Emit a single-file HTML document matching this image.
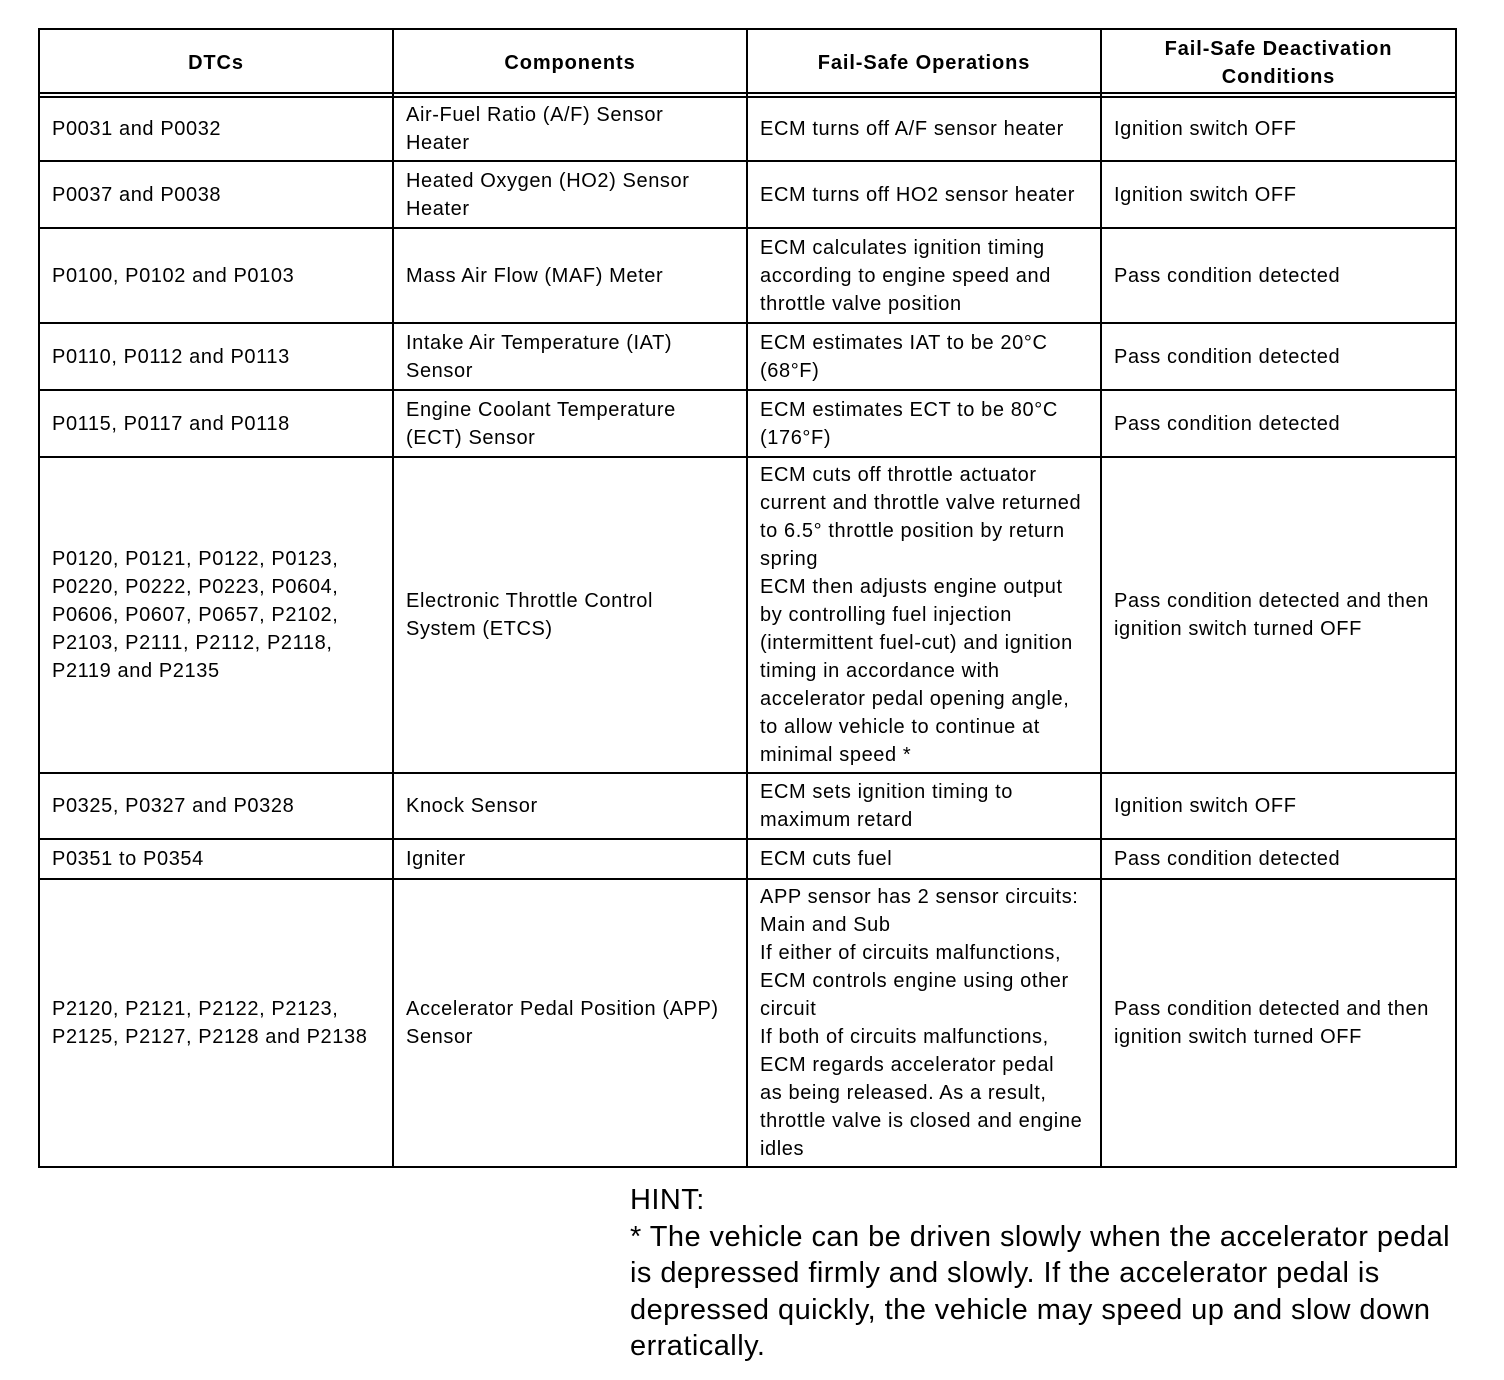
<!DOCTYPE html>
<html><head><meta charset="utf-8"><style>
body{margin:0;width:1504px;height:1380px;background:#fff;position:relative;font-family:"Liberation Sans",Arial,sans-serif;color:#000;overflow:hidden}
.h,.v{position:absolute;background:#000}
.c{position:absolute;display:flex;align-items:center;font-size:20px;letter-spacing:0.6px;line-height:28px;padding-left:12px;box-sizing:border-box;white-space:nowrap}
.hd{justify-content:center;text-align:center;font-weight:bold;font-size:20px;letter-spacing:0.9px;line-height:28px;padding-left:0;padding-top:3px}
.hint{position:absolute;left:630px;top:1182px;font-size:29px;letter-spacing:0.45px;line-height:36.5px;width:860px;white-space:nowrap}
</style></head><body>
<div class="h" style="left:38px;top:28px;width:1419px;height:2px"></div>
<div class="h" style="left:38px;top:92px;width:1419px;height:2px"></div>
<div class="h" style="left:38px;top:96px;width:1419px;height:2px"></div>
<div class="h" style="left:38px;top:160px;width:1419px;height:2px"></div>
<div class="h" style="left:38px;top:227px;width:1419px;height:2px"></div>
<div class="h" style="left:38px;top:322px;width:1419px;height:2px"></div>
<div class="h" style="left:38px;top:389px;width:1419px;height:2px"></div>
<div class="h" style="left:38px;top:456px;width:1419px;height:2px"></div>
<div class="h" style="left:38px;top:772px;width:1419px;height:2px"></div>
<div class="h" style="left:38px;top:838px;width:1419px;height:2px"></div>
<div class="h" style="left:38px;top:878px;width:1419px;height:2px"></div>
<div class="h" style="left:38px;top:1166px;width:1419px;height:2px"></div>
<div class="v" style="left:38px;top:28px;width:2px;height:1140px"></div>
<div class="v" style="left:392px;top:28px;width:2px;height:1140px"></div>
<div class="v" style="left:746px;top:28px;width:2px;height:1140px"></div>
<div class="v" style="left:1100px;top:28px;width:2px;height:1140px"></div>
<div class="v" style="left:1455px;top:28px;width:2px;height:1140px"></div>

<div class="c hd" style="left:40px;top:30px;width:352px;height:62px">DTCs</div>
<div class="c hd" style="left:394px;top:30px;width:352px;height:62px">Components</div>
<div class="c hd" style="left:748px;top:30px;width:352px;height:62px">Fail-Safe Operations</div>
<div class="c hd" style="left:1102px;top:30px;width:353px;height:62px">Fail-Safe Deactivation<br>Conditions</div>

<div class="c" style="left:40px;top:98px;width:352px;height:62px">P0031 and P0032</div>
<div class="c" style="left:394px;top:98px;width:352px;height:62px">Air-Fuel Ratio (A/F) Sensor<br>Heater</div>
<div class="c" style="left:748px;top:98px;width:352px;height:62px">ECM turns off A/F sensor heater</div>
<div class="c" style="left:1102px;top:98px;width:353px;height:62px">Ignition switch OFF</div>

<div class="c" style="left:40px;top:162px;width:352px;height:65px">P0037 and P0038</div>
<div class="c" style="left:394px;top:162px;width:352px;height:65px">Heated Oxygen (HO2) Sensor<br>Heater</div>
<div class="c" style="left:748px;top:162px;width:352px;height:65px">ECM turns off HO2 sensor heater</div>
<div class="c" style="left:1102px;top:162px;width:353px;height:65px">Ignition switch OFF</div>

<div class="c" style="left:40px;top:229px;width:352px;height:93px">P0100, P0102 and P0103</div>
<div class="c" style="left:394px;top:229px;width:352px;height:93px">Mass Air Flow (MAF) Meter</div>
<div class="c" style="left:748px;top:229px;width:352px;height:93px">ECM calculates ignition timing<br>according to engine speed and<br>throttle valve position</div>
<div class="c" style="left:1102px;top:229px;width:353px;height:93px">Pass condition detected</div>

<div class="c" style="left:40px;top:324px;width:352px;height:65px">P0110, P0112 and P0113</div>
<div class="c" style="left:394px;top:324px;width:352px;height:65px">Intake Air Temperature (IAT)<br>Sensor</div>
<div class="c" style="left:748px;top:324px;width:352px;height:65px">ECM estimates IAT to be 20°C<br>(68°F)</div>
<div class="c" style="left:1102px;top:324px;width:353px;height:65px">Pass condition detected</div>

<div class="c" style="left:40px;top:391px;width:352px;height:65px">P0115, P0117 and P0118</div>
<div class="c" style="left:394px;top:391px;width:352px;height:65px">Engine Coolant Temperature<br>(ECT) Sensor</div>
<div class="c" style="left:748px;top:391px;width:352px;height:65px">ECM estimates ECT to be 80°C<br>(176°F)</div>
<div class="c" style="left:1102px;top:391px;width:353px;height:65px">Pass condition detected</div>

<div class="c" style="left:40px;top:458px;width:352px;height:314px">P0120, P0121, P0122, P0123,<br>P0220, P0222, P0223, P0604,<br>P0606, P0607, P0657, P2102,<br>P2103, P2111, P2112, P2118,<br>P2119 and P2135</div>
<div class="c" style="left:394px;top:458px;width:352px;height:314px">Electronic Throttle Control<br>System (ETCS)</div>
<div class="c" style="left:748px;top:458px;width:352px;height:314px">ECM cuts off throttle actuator<br>current and throttle valve returned<br>to 6.5° throttle position by return<br>spring<br>ECM then adjusts engine output<br>by controlling fuel injection<br>(intermittent fuel-cut) and ignition<br>timing in accordance with<br>accelerator pedal opening angle,<br>to allow vehicle to continue at<br>minimal speed *</div>
<div class="c" style="left:1102px;top:458px;width:353px;height:314px">Pass condition detected and then<br>ignition switch turned OFF</div>

<div class="c" style="left:40px;top:774px;width:352px;height:64px">P0325, P0327 and P0328</div>
<div class="c" style="left:394px;top:774px;width:352px;height:64px">Knock Sensor</div>
<div class="c" style="left:748px;top:774px;width:352px;height:64px">ECM sets ignition timing to<br>maximum retard</div>
<div class="c" style="left:1102px;top:774px;width:353px;height:64px">Ignition switch OFF</div>

<div class="c" style="left:40px;top:840px;width:352px;height:38px">P0351 to P0354</div>
<div class="c" style="left:394px;top:840px;width:352px;height:38px">Igniter</div>
<div class="c" style="left:748px;top:840px;width:352px;height:38px">ECM cuts fuel</div>
<div class="c" style="left:1102px;top:840px;width:353px;height:38px">Pass condition detected</div>

<div class="c" style="left:40px;top:880px;width:352px;height:286px">P2120, P2121, P2122, P2123,<br>P2125, P2127, P2128 and P2138</div>
<div class="c" style="left:394px;top:880px;width:352px;height:286px">Accelerator Pedal Position (APP)<br>Sensor</div>
<div class="c" style="left:748px;top:880px;width:352px;height:286px">APP sensor has 2 sensor circuits:<br>Main and Sub<br>If either of circuits malfunctions,<br>ECM controls engine using other<br>circuit<br>If both of circuits malfunctions,<br>ECM regards accelerator pedal<br>as being released. As a result,<br>throttle valve is closed and engine<br>idles</div>
<div class="c" style="left:1102px;top:880px;width:353px;height:286px">Pass condition detected and then<br>ignition switch turned OFF</div>

<div class="hint">HINT:<br>* The vehicle can be driven slowly when the accelerator pedal<br>is depressed firmly and slowly. If the accelerator pedal is<br>depressed quickly, the vehicle may speed up and slow down<br>erratically.</div>
</body></html>
